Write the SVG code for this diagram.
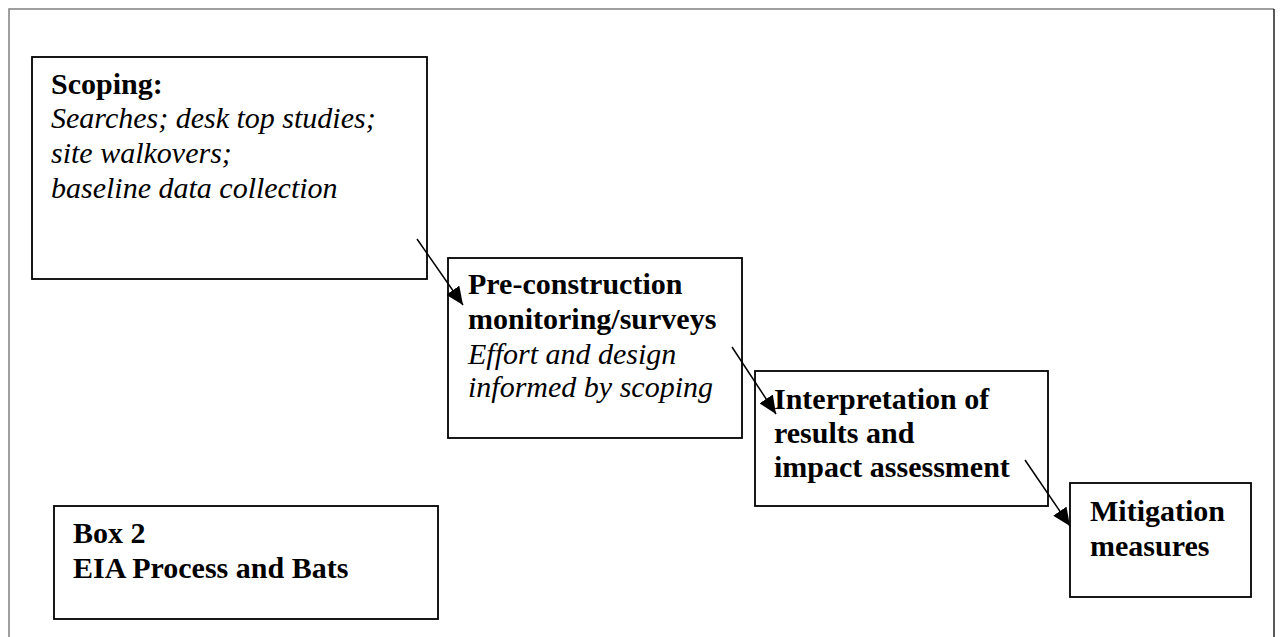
<svg xmlns="http://www.w3.org/2000/svg" width="1280" height="637" viewBox="0 0 1280 637">
<style>
.box{fill:#fff;stroke:#000;stroke-width:1.8}
.b{font-family:"Liberation Serif","Times New Roman",serif;font-size:30px;font-weight:bold;fill:#000}
.i{font-family:"Liberation Serif","Times New Roman",serif;font-size:30px;font-style:italic;fill:#000}
.conn{stroke:#000;stroke-width:1.5;fill:none}
</style>
<defs>
<marker id="ah" markerUnits="userSpaceOnUse" markerWidth="19" markerHeight="16" refX="18" refY="8" orient="auto">
<path d="M0,0 L18,8 L0,16 Z" fill="#000"/>
</marker>
</defs>
<rect width="1280" height="637" fill="#fff"/>
<g id="frame">
<polyline points="9,637 9,9 1274,9" fill="none" stroke="#808080" stroke-width="1.5"/>
<line x1="1274" y1="9" x2="1274" y2="637" stroke="#222" stroke-width="1.5"/>
</g>
<g id="scoping">
<rect class="box" x="32" y="57" width="395" height="222"/>
<text class="b" x="51" y="94">Scoping:</text>
<text class="i" x="51" y="128">Searches; desk top studies;</text>
<text class="i" x="51" y="163">site walkovers;</text>
<text class="i" x="51" y="198">baseline data collection</text>
</g>
<g id="preconstruction">
<rect class="box" x="448" y="258" width="294" height="180"/>
<text class="b" x="468" y="294">Pre-construction</text>
<text class="b" x="468" y="329">monitoring/surveys</text>
<text class="i" x="468" y="364">Effort and design</text>
<text class="i" x="468" y="397">informed by scoping</text>
</g>
<g id="interpretation">
<rect class="box" x="755" y="371" width="293" height="135"/>
<text class="b" x="774" y="409">Interpretation of</text>
<text class="b" x="774" y="443">results and</text>
<text class="b" x="774" y="477">impact assessment</text>
</g>
<g id="mitigation">
<rect class="box" x="1070" y="483" width="181" height="114"/>
<text class="b" x="1090" y="521">Mitigation</text>
<text class="b" x="1090" y="556">measures</text>
</g>
<g id="box2">
<rect class="box" x="54" y="506" width="384" height="113"/>
<text class="b" x="73" y="543">Box 2</text>
<text class="b" x="73" y="578">EIA Process and Bats</text>
</g>
<g id="connectors">
<line class="conn" x1="417" y1="239" x2="463" y2="305" marker-end="url(#ah)"/>
<line class="conn" x1="732" y1="347" x2="776" y2="414" marker-end="url(#ah)"/>
<line class="conn" x1="1025" y1="460" x2="1070" y2="526" marker-end="url(#ah)"/>
</g>
</svg>
